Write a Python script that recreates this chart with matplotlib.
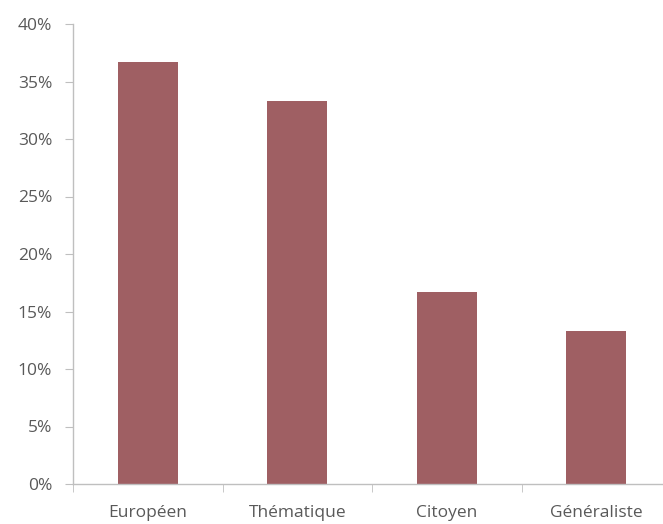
import matplotlib
matplotlib.use("Agg")
import matplotlib.pyplot as plt
from matplotlib.ticker import FuncFormatter, FixedLocator

#----------------------------------------------------------------------
#Data
#----------------------------------------------------------------------
categories = ["Européen", "Thématique", "Citoyen", "Généraliste"]
shares = [0.367, 0.333, 0.167, 0.133]
yticks = [0, 0.05, 0.10, 0.15, 0.20, 0.25, 0.30, 0.35, 0.40]

barColor = "#9f5f63"
axisColor = "#bfbfbf"
textColor = "#595959"

plt.rcParams['font.family'] = ['Open Sans', 'DejaVu Sans']

fig = plt.figure(figsize=(6.63, 5.24), dpi=100)
# axis spans past the right border, like the cropped original
ax = fig.add_axes([73/663, 40/524, 598/663, 460/524])

xs = list(range(len(categories)))
ax.bar(xs, shares, width=0.4, color=barColor, zorder=2)

ax.set_xlim(-0.5, len(categories) - 0.5)
ax.set_ylim(0, 0.40)

ax.yaxis.set_major_locator(FixedLocator(yticks))
ax.yaxis.set_major_formatter(FuncFormatter(lambda v, p: "%d%%" % round(v * 100)))

# category labels centered, tick marks between categories
ax.set_xticks(xs)
ax.set_xticklabels(categories)
ax.xaxis.set_minor_locator(FixedLocator([i + 0.5 for i in range(-1, len(categories))]))
ax.tick_params(axis='x', which='major', length=0, pad=15, labelsize=12.5, labelcolor=textColor)
ax.tick_params(axis='x', which='minor', length=6, color=axisColor, direction='out')
ax.tick_params(axis='y', length=6, color=axisColor, labelsize=12.5, labelcolor=textColor, pad=9)

for side in ['top', 'right']:
    ax.spines[side].set_visible(False)
for side in ['left', 'bottom']:
    ax.spines[side].set_color(axisColor)
    ax.spines[side].set_linewidth(1)

fig.savefig("out.png", dpi=100)
